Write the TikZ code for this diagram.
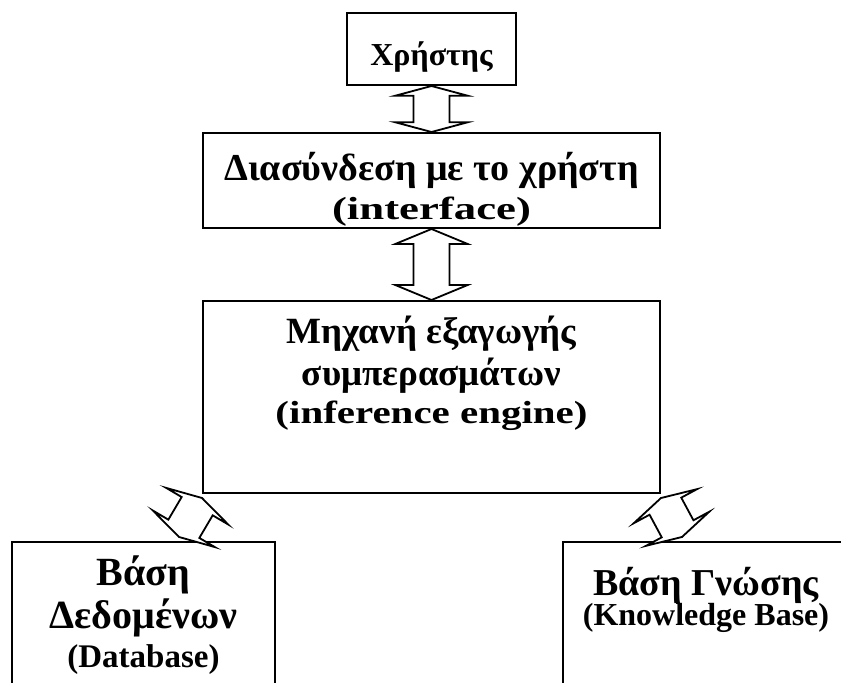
\documentclass[tikz,border=0pt]{standalone}
\usepackage{fontspec}
\setmainfont{Liberation Serif}
\newfontfamily\ifacefont[FakeStretch=1.4]{Liberation Serif}
\newfontfamily\enginefont[FakeStretch=1.28]{Liberation Serif}
\usetikzlibrary{calc}

\tikzset{
  box/.style={draw, line width=1pt, inner sep=0pt},
  title/.style={font=\fontsize{#1}{#1}\selectfont\bfseries, anchor=base},
  subtitle/.style={font=\fontsize{#1}{#1}\selectfont\bfseries, anchor=base},
  dblarrowline/.style={draw, line width=0.9pt, line join=miter, fill=white}
}

% hollow double arrow from #1 to #2
\newcommand{\dblarrow}[2]{%
  \draw[dblarrowline] let \p1=(#1), \p2=(#2),
    \n1={atan2(\y2-\y1,\x2-\x1)}, \n2={veclen(\x2-\x1,\y2-\y1)}, \n3={0.21*\n2}
  in [shift={(\p1)}, rotate=\n1]
    (0pt,0pt) -- (\n3,18pt) -- (\n3,9pt) -- (\n2-\n3,9pt) -- (\n2-\n3,18pt)
    -- (\n2,0pt) -- (\n2-\n3,-18pt) -- (\n2-\n3,-9pt) -- (\n3,-9pt) -- (\n3,-18pt) -- cycle;}

\begin{document}
\begin{tikzpicture}[x=0.5pt, y=0.5pt]
\useasboundingbox (0,0) rectangle (841,682);
\clip (0,0) rectangle (841,682);

% Boxes
\node[box, minimum width=84.5pt, minimum height=36pt] (user) at (431.5,633) {};
\node[box, minimum width=228.5pt, minimum height=47.5pt] (iface) at (431.5,501.5) {};
\node[box, minimum width=228.5pt, minimum height=96pt] (engine) at (431.5,285) {};
\node[box, minimum width=131.5pt, minimum height=85pt] (db) at (143.5,55) {};
\node[box, minimum width=143pt, minimum height=85pt] (kb) at (706,55) {};

% Texts
\node[title=16] (user text) at (431.5,617) {Χρήστης};
\node[title=19] (iface text) at (431.5,502) {Διασύνδεση με το χρήστη};
\node[subtitle=16] (iface sub) at (431.5,463) {\ifacefont (interface)};
\node[title=18.5] (engine text1) at (431.5,339) {Μηχανή εξαγωγής};
\node[title=18.5] (engine text2) at (431.5,297) {συμπερασμάτων};
\node[subtitle=16] (engine sub) at (431.5,259) {\enginefont (inference engine)};
\node[title=20] (db text1) at (143.5,97) {Βάση};
\node[title=20] (db text2) at (143.5,54) {Δεδομένων};
\node[subtitle=16.5] (db sub) at (143.5,15) {(Database)};
\node[title=19] (kb text) at (706,87) {Βάση Γνώσης};
\node[subtitle=16] (kb sub) at (706,57) {(Knowledge Base)};

% Arrows
\dblarrow{user.south}{iface.north}
\dblarrow{iface.south}{engine.north}
\dblarrow{$(engine.south west)+(0,-4)$}{$(db.north west)+(168,4)$}
\dblarrow{$(engine.south east)+(0,-4)$}{$(kb.north west)+(120,4)$}

\end{tikzpicture}
\end{document}
